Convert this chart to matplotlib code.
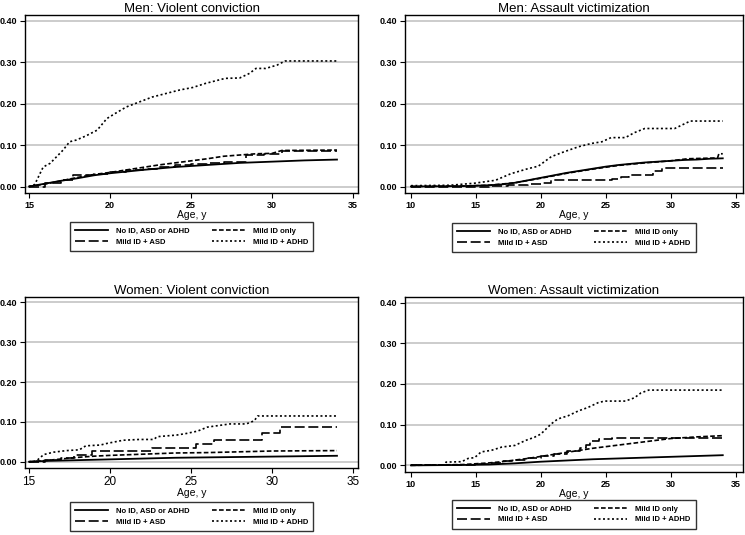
import matplotlib
matplotlib.use("Agg")
import matplotlib.pyplot as plt

plt.rcParams['font.family'] = ['Liberation Sans', 'DejaVu Sans']

labels = ["No ID, ASD or ADHD", "Mild ID + ASD", "Mild ID only", "Mild ID + ADHD"]

# Men: violent conviction
mv_noid_x = [15, 16, 17, 18, 19, 20, 22, 24, 26, 28, 30, 32, 34]
mv_noid_y = [0, 0.007, 0.014, 0.020, 0.027, 0.032, 0.040, 0.047, 0.052, 0.057, 0.060, 0.063, 0.065]
mv_asd_x = [15, 16, 17, 17.7, 19, 20, 21, 22, 23, 24, 25, 26, 27, 28.4, 29.5, 30.6, 34]
mv_asd_y = [0, 0.008, 0.016, 0.027, 0.030, 0.035, 0.039, 0.043, 0.047, 0.051, 0.054, 0.057, 0.060, 0.075, 0.078, 0.086, 0.086]
mv_mild_x = [15, 16, 17, 18, 19, 20, 21, 22, 23, 24, 25, 26, 27, 28, 29, 30, 30.6, 34]
mv_mild_y = [0, 0.006, 0.014, 0.022, 0.029, 0.034, 0.040, 0.046, 0.052, 0.057, 0.062, 0.067, 0.073, 0.076, 0.079, 0.080, 0.087, 0.088]
mv_adhd_x = [15, 15.35, 15.87, 16.3, 16.7, 17.1, 17.5, 17.9, 18.5, 19.2, 19.8, 20.3, 21, 21.8, 22.6,
             23.5, 24.3, 25.1, 25.9, 26.5, 27.1, 28, 28.6, 29, 29.6, 30.3, 30.8, 34]
mv_adhd_y = [0, 0.005, 0.047, 0.056, 0.072, 0.088, 0.108, 0.112, 0.122, 0.136, 0.164, 0.176, 0.192, 0.204, 0.216,
             0.225, 0.233, 0.239, 0.249, 0.255, 0.261, 0.262, 0.273, 0.285, 0.285, 0.293, 0.303, 0.303]

# Men: assault victimization
ma_noid_x = [10, 14, 16, 17, 18, 19, 20, 21, 22, 23, 24, 25, 26, 27, 28, 29, 30, 31, 32, 33, 34]
ma_noid_y = [0, 0.001, 0.003, 0.005, 0.009, 0.015, 0.021, 0.027, 0.033, 0.038, 0.043, 0.048, 0.052, 0.055,
             0.058, 0.060, 0.062, 0.064, 0.065, 0.067, 0.068]
ma_asd_x = [10, 16, 17.5, 19, 20, 20.8, 23.5, 25.5, 26.2, 26.8, 28.6, 29.3, 29.9, 34]
ma_asd_y = [0, 0.001, 0.003, 0.006, 0.009, 0.015, 0.016, 0.019, 0.024, 0.028, 0.038, 0.044, 0.045, 0.045]
ma_mild_x = [10, 14, 16, 18, 20, 22, 24, 26, 28, 30, 31.3, 33.6, 33.7, 34]
ma_mild_y = [0, 0.001, 0.003, 0.009, 0.020, 0.032, 0.042, 0.051, 0.057, 0.062, 0.067, 0.069, 0.079, 0.079]
ma_adhd_x = [10, 13, 14.9, 16.5, 17.7, 19, 19.8, 20.8, 21.8, 22.9, 23.9, 24.7, 25.4, 26.5, 27.2, 28,
             30.3, 30.7, 31.5, 34]
ma_adhd_y = [0.002, 0.003, 0.008, 0.015, 0.031, 0.043, 0.049, 0.072, 0.084, 0.096, 0.104, 0.108, 0.118,
             0.118, 0.130, 0.140, 0.140, 0.146, 0.158, 0.158]

# Women: violent conviction
wv_noid_x = [15, 16, 18, 20, 22, 24, 26, 28, 30, 32, 34]
wv_noid_y = [0, 0.002, 0.004, 0.006, 0.008, 0.010, 0.011, 0.012, 0.013, 0.014, 0.015]
wv_asd_x = [15, 16, 17, 17.8, 18.9, 22.6, 25.3, 26.4, 29.4, 30.5, 34]
wv_asd_y = [0, 0.004, 0.010, 0.018, 0.026, 0.034, 0.044, 0.054, 0.071, 0.087, 0.087]
wv_mild_x = [15, 16, 17, 18, 19, 20, 22, 24, 26, 28, 30, 34]
wv_mild_y = [0, 0.003, 0.007, 0.011, 0.014, 0.016, 0.019, 0.022, 0.023, 0.025, 0.027, 0.028]
wv_adhd_x = [15, 15.45, 15.9, 16.5, 17.3, 18.1, 18.5, 19.4, 19.8, 20.8, 21.8, 22.7, 22.9, 24.1, 24.7,
             25.4, 26, 27.4, 28.4, 28.9, 29.1, 34]
wv_adhd_y = [0, 0.002, 0.018, 0.024, 0.028, 0.030, 0.040, 0.042, 0.046, 0.054, 0.056, 0.056, 0.063, 0.067,
             0.071, 0.077, 0.087, 0.095, 0.095, 0.103, 0.115, 0.115]

# Women: assault victimization
wa_noid_x = [10, 14, 16, 18, 20, 22, 24, 26, 28, 30, 32, 34]
wa_noid_y = [0, 0.001, 0.002, 0.005, 0.009, 0.012, 0.015, 0.017, 0.019, 0.021, 0.023, 0.025]
wa_asd_x = [10, 14, 15, 16, 17, 18, 19, 20, 21, 22, 23, 23.5, 23.8, 24.5, 25.5, 34]
wa_asd_y = [0, 0.002, 0.004, 0.007, 0.010, 0.014, 0.018, 0.024, 0.029, 0.035, 0.043, 0.050, 0.060, 0.064,
            0.067, 0.067]
wa_mild_x = [10, 14, 15, 16, 17, 18, 19, 20, 21, 22, 23, 24, 25, 26, 27, 28, 29, 30, 32, 34]
wa_mild_y = [0, 0.002, 0.004, 0.006, 0.009, 0.013, 0.017, 0.022, 0.027, 0.032, 0.037, 0.042, 0.046, 0.050,
             0.054, 0.058, 0.062, 0.066, 0.070, 0.073]
wa_adhd_x = [10, 12.6, 12.7, 13.9, 14.4, 14.9, 15.4, 16.2, 17, 18, 18.8, 19.5, 20, 20.8, 21.3, 22.1, 22.9,
             23.6, 24.4, 24.9, 26.5, 27.2, 27.7, 28.3, 34]
wa_adhd_y = [0.001, 0.001, 0.008, 0.009, 0.017, 0.019, 0.033, 0.037, 0.045, 0.049, 0.061, 0.069, 0.077,
             0.102, 0.114, 0.122, 0.134, 0.142, 0.154, 0.158, 0.158, 0.166, 0.178, 0.185, 0.185]

# title, axes rect, xlim, xticks, series..., legend top (axes coords), big x tick labels
panels = [
    ("Men: Violent conviction", [0.0336, 0.639, 0.447, 0.333], (14.75, 35.3), [15, 20, 25, 30, 35],
     (mv_noid_x, mv_noid_y), (mv_asd_x, mv_asd_y), (mv_mild_x, mv_mild_y), (mv_adhd_x, mv_adhd_y), -0.163, False),
    ("Men: Assault victimization", [0.5436, 0.639, 0.4534, 0.333], (9.54, 35.54), [10, 15, 20, 25, 30, 35],
     (ma_noid_x, ma_noid_y), (ma_asd_x, ma_asd_y), (ma_mild_x, ma_mild_y), (ma_adhd_x, ma_adhd_y), -0.168, False),
    ("Women: Violent conviction", [0.0336, 0.125, 0.447, 0.32], (14.75, 35.3), [15, 20, 25, 30, 35],
     (wv_noid_x, wv_noid_y), (wv_asd_x, wv_asd_y), (wv_mild_x, wv_mild_y), (wv_adhd_x, wv_adhd_y), -0.199, True),
    ("Women: Assault victimization", [0.5436, 0.118, 0.4534, 0.327], (9.54, 35.54), [10, 15, 20, 25, 30, 35],
     (wa_noid_x, wa_noid_y), (wa_asd_x, wa_asd_y), (wa_mild_x, wa_mild_y), (wa_adhd_x, wa_adhd_y), -0.16, False),
]

fig = plt.figure(figsize=(7.45, 5.35), dpi=100)

for title, pos, xlim, xticks, noid, asd, mild, adhd, leg_y, big_x in panels:
    ax = fig.add_axes(pos)
    for yv in [0, 0.1, 0.2, 0.3, 0.4]:
        ax.axhline(yv, color="#c4c4c4", lw=1.2, zorder=0)
    ax.plot(noid[0], noid[1], color="black", lw=1.3, label=labels[0])
    ax.plot(asd[0], asd[1], color="black", lw=1.2, ls=(0, (6, 2.2)), drawstyle="steps-post", label=labels[1])
    ax.plot(mild[0], mild[1], color="black", lw=1.2, ls=(0, (2.8, 1.4)), label=labels[2])
    ax.plot(adhd[0], adhd[1], color="black", lw=1.2, ls=(0, (1.2, 1.5)), label=labels[3])

    ax.set_xlim(xlim)
    ax.set_ylim(-0.016, 0.414)
    ax.set_xticks(xticks)
    ax.set_yticks([0, 0.1, 0.2, 0.3, 0.4])
    ax.set_yticklabels(["0.00", "0.10", "0.20", "0.30", "0.40"], fontweight="bold", fontsize=6.5)
    if big_x:
        ax.set_xticklabels([str(t) for t in xticks], fontsize=8.5)
    else:
        ax.set_xticklabels([str(t) for t in xticks], fontweight="bold", fontsize=6.5)
    ax.tick_params(direction="out", length=3.5, width=0.8, pad=2)
    for s in ax.spines.values():
        s.set_linewidth(1.0)
    ax.set_title(title, fontsize=9.5, pad=2)
    ax.set_xlabel("Age, y", fontsize=7.5, labelpad=0)

    ax.legend(loc="upper center", bbox_to_anchor=(0.5, leg_y), ncol=2, frameon=True, fancybox=False,
              edgecolor="black", prop={"weight": "bold", "size": 5.5}, borderaxespad=0,
              handlelength=4.3, columnspacing=3.0, borderpad=0.7, labelspacing=0.45, handletextpad=1.0)

fig.savefig("out.png", dpi=100)
